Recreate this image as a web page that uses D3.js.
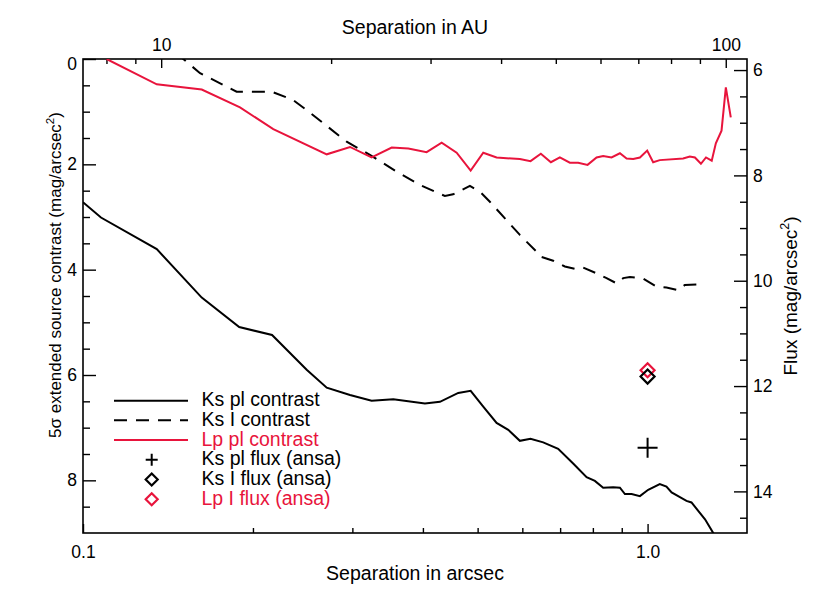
<!DOCTYPE html>
<html><head><meta charset="utf-8">
<script src="https://cdn.jsdelivr.net/npm/d3@7"></script>
<style>
body{margin:0;background:#fff;}
text{font-family:"Liberation Sans",Arial,Helvetica,sans-serif;}
</style></head><body>
<svg id="c" width="830" height="593"></svg>
<script>
// ---- data (separation in arcsec, contrast in mag/arcsec^2) ----
const ksPlSep = [0.100,0.1076,0.1351,0.1623,0.1891,0.2162,0.2490,0.2702,0.2971,0.3245,0.3545,0.4033,0.4288,0.4620,0.4860,0.5116,0.5402,0.5665,0.5940,0.6204,0.6533,0.6944,0.7382,0.7798,0.8066,0.8343,0.8691,0.8933,0.9117,0.9370,0.9692,1.0025,1.051,1.080,1.103,1.172,1.196,1.264,1.307,1.345];
const ksPlVal = [2.72,3.01,3.61,4.53,5.09,5.24,5.90,6.24,6.38,6.49,6.46,6.54,6.51,6.34,6.30,6.60,6.91,7.04,7.25,7.21,7.28,7.40,7.68,7.94,8.01,8.14,8.13,8.14,8.26,8.26,8.30,8.18,8.07,8.12,8.23,8.39,8.42,8.74,9.00,9.30];

const ksISep = [0.146,0.1612,0.1871,0.2159,0.2357,0.2490,0.2931,0.3222,0.3594,0.3953,0.4201,0.4375,0.4524,0.4845,0.5047,0.5256,0.5940,0.6358,0.6445,0.6804,0.7136,0.7485,0.7691,0.8122,0.8460,0.8812,0.9054,0.9305,0.9822,1.037,1.080,1.133,1.164,1.229];
const ksIVal = [-0.12,0.27,0.62,0.62,0.78,0.97,1.57,1.82,2.14,2.39,2.52,2.60,2.57,2.41,2.52,2.71,3.34,3.66,3.75,3.83,3.94,3.99,3.96,4.07,4.16,4.26,4.16,4.14,4.17,4.32,4.34,4.39,4.29,4.28];

const lpPlSep = [0.1101,0.1351,0.1623,0.1897,0.2173,0.2702,0.2971,0.3245,0.3522,0.3769,0.4061,0.4318,0.4590,0.4860,0.5116,0.5402,0.5940,0.6204,0.6471,0.6741,0.6992,0.7283,0.7534,0.7829,0.8122,0.8343,0.8633,0.8933,0.9180,0.9430,0.9692,0.9984,1.023,1.051,1.156,1.188,1.213,1.243,1.269,1.299,1.321,1.352,1.376,1.404];
const lpPlVal = [0.00,0.48,0.58,0.92,1.33,1.81,1.67,1.87,1.68,1.70,1.77,1.59,1.78,2.12,1.78,1.87,1.90,1.94,1.80,1.96,1.87,1.97,1.97,2.01,1.87,1.84,1.87,1.79,1.89,1.90,1.87,1.74,1.96,1.92,1.89,1.85,1.87,1.99,1.87,1.93,1.60,1.36,0.54,1.11];

// ansa flux points (separation arcsec, flux mag/arcsec^2 on right axis)
const ksPlFluxSep = [1.0], ksPlFlux = [13.17];
const ksIFluxSep = [1.0],  ksIFlux  = [11.82];
const lpIFluxSep = [1.0],  lpIFlux  = [11.70];

// ticks
const xMajor = [0.1, 1.0], xMajorLabels = ["0.1","1.0"];
const xMinor = [0.2,0.3,0.4,0.5,0.6,0.7,0.8,0.9];
const auMajor = [10,100], auMajorLabels = ["10","100"];
const auMinor = [8,9,20,30,40,50,60,70,80,90];
const yMajor = [0,2,4,6,8];
const yMinor = [0.5,1,1.5,2.5,3,3.5,4.5,5,5.5,6.5,7,7.5,8.5];
const yRMajor = [6,8,10,12,14];
const yRMinor = [6.5,7,7.5,8.5,9,9.5,10.5,11,11.5,12.5,13,13.5,14.5];
const distancePc = 72.7; // AU per arcsec

const legendLabels = ["Ks pl contrast","Ks I contrast","Lp pl contrast","Ks pl flux (ansa)","Ks I flux (ansa)","Lp I flux (ansa)"];
const RED = "#e8143c";

// ---- layout ----
const L=83,R=747,T=59,B=533;
const svg=d3.select("#c");
const x=d3.scaleLog().domain([0.1,1.5]).range([L,R]);
const xAU=d3.scaleLog().domain([0.1*distancePc,1.5*distancePc]).range([L,R]);
const y=d3.scaleLinear().domain([0,9]).range([T,B]);
const yR=d3.scaleLinear().domain([5.79,14.79]).range([T,B]);
const FS="19.5px", TFS="17.5px";

function styleAxis(g){
  g.select(".domain").remove();
  g.selectAll("line").attr("stroke","#000").attr("stroke-width",1.4);
  g.selectAll("text").attr("font-size",TFS).attr("fill","#000").style("font-family",'"Liberation Sans",Arial,sans-serif');
}
// bottom
svg.append("g").attr("transform",`translate(0,${B})`)
 .call(d3.axisBottom(x).tickValues(xMinor).tickSize(-5).tickFormat("")).call(styleAxis);
svg.append("g").attr("transform",`translate(0,${B})`)
 .call(d3.axisBottom(x).tickValues(xMajor).tickSize(-9).tickPadding(13).tickFormat((d,i)=>xMajorLabels[i])).call(styleAxis);
// top
svg.append("g").attr("transform",`translate(0,${T})`)
 .call(d3.axisTop(xAU).tickValues(auMinor).tickSize(-5).tickFormat("")).call(styleAxis);
svg.append("g").attr("transform",`translate(0,${T})`)
 .call(d3.axisTop(xAU).tickValues(auMajor).tickSize(-9).tickPadding(8).tickFormat((d,i)=>auMajorLabels[i])).call(styleAxis);
// left
svg.append("g").attr("transform",`translate(${L},0)`)
 .call(d3.axisLeft(y).tickValues(yMinor).tickSize(-7).tickFormat("")).call(styleAxis);
const gl=svg.append("g").attr("transform",`translate(${L},0)`)
 .call(d3.axisLeft(y).tickValues(yMajor).tickSize(-13).tickPadding(6).tickFormat(d3.format("d"))).call(styleAxis);
gl.selectAll(".tick").filter(d=>d===0).select("text").attr("y",5);
// right
svg.append("g").attr("transform",`translate(${R},0)`)
 .call(d3.axisRight(yR).tickValues(yRMinor).tickSize(-7).tickFormat("")).call(styleAxis);
svg.append("g").attr("transform",`translate(${R},0)`)
 .call(d3.axisRight(yR).tickValues(yRMajor).tickSize(-13).tickPadding(6).tickFormat(d3.format("d"))).call(styleAxis);

// frame
svg.append("rect").attr("x",L).attr("y",T).attr("width",R-L).attr("height",B-T)
 .attr("fill","none").attr("stroke","#000").attr("stroke-width",1.6);

// clip
svg.append("clipPath").attr("id","clip").append("rect").attr("x",L).attr("y",T).attr("width",R-L).attr("height",B-T);
const plot=svg.append("g").attr("clip-path","url(#clip)");
const line=d3.line().x(d=>x(d[0])).y(d=>y(d[1]));
plot.append("path").datum(d3.zip(ksPlSep,ksPlVal)).attr("d",line).attr("fill","none").attr("stroke","#000").attr("stroke-width",2);
plot.append("path").datum(d3.zip(ksISep,ksIVal)).attr("d",line).attr("fill","none").attr("stroke","#000").attr("stroke-width",2).attr("stroke-dasharray","13,9");
plot.append("path").datum(d3.zip(lpPlSep,lpPlVal)).attr("d",line).attr("fill","none").attr("stroke",RED).attr("stroke-width",2);

function diamond(g,cx,cy,col,s){
  g.append("path").attr("d",`M${cx},${cy-s}L${cx+s},${cy}L${cx},${cy+s}L${cx-s},${cy}Z`)
   .attr("fill","none").attr("stroke",col).attr("stroke-width",2.2);
}
function plus(g,cx,cy,col,s){
  g.append("path").attr("d",`M${cx-s},${cy}H${cx+s}M${cx},${cy-s}V${cy+s}`).attr("stroke",col).attr("stroke-width",2);
}
ksPlFluxSep.forEach((s,i)=>plus(svg,x(s),yR(ksPlFlux[i]),"#000",10));
lpIFluxSep.forEach((s,i)=>diamond(svg,x(s),yR(lpIFlux[i]),RED,7));
ksIFluxSep.forEach((s,i)=>diamond(svg,x(s),yR(ksIFlux[i]),"#000",7));

// legend
const legY=[400.7,420.3,440,459.7,479.5,499.3];
const legCol=["#000","#000",RED,"#000","#000",RED];
const lg=svg.append("g");
[0,1,2].forEach(i=>{
  lg.append("line").attr("x1",114).attr("x2",188).attr("y1",legY[i]).attr("y2",legY[i])
   .attr("stroke",legCol[i]).attr("stroke-width",2).attr("stroke-dasharray",i===1?"13,9":null);
});
plus(lg,151.7,legY[3],"#000",6);
diamond(lg,151.7,legY[4],"#000",6);
diamond(lg,151.7,legY[5],RED,6);
legendLabels.forEach((t,i)=>{
  lg.append("text").attr("x",201.5).attr("y",legY[i]+5.5).attr("font-size",FS).attr("fill",legCol[i]).text(t);
});

// axis titles
svg.append("text").attr("x",415).attr("y",580).attr("text-anchor","middle").attr("font-size",FS).text("Separation in arcsec");
svg.append("text").attr("x",415).attr("y",34).attr("text-anchor","middle").attr("font-size",FS).text("Separation in AU");
const lt=svg.append("text").attr("transform","translate(61,275) rotate(-90)").attr("text-anchor","middle").attr("font-size","17px");
lt.append("tspan").text("5σ extended source contrast (mag/arcsec");
lt.append("tspan").attr("font-size","11.5px").attr("dy",-7).text("2");
lt.append("tspan").attr("dy",7).text(")");
const rt=svg.append("text").attr("transform","translate(797,296) rotate(-90)").attr("text-anchor","middle").attr("font-size","19px");
rt.append("tspan").text("Flux (mag/arcsec");
rt.append("tspan").attr("font-size","12.5px").attr("dy",-8).text("2");
rt.append("tspan").attr("dy",8).text(")");
</script></body></html>
